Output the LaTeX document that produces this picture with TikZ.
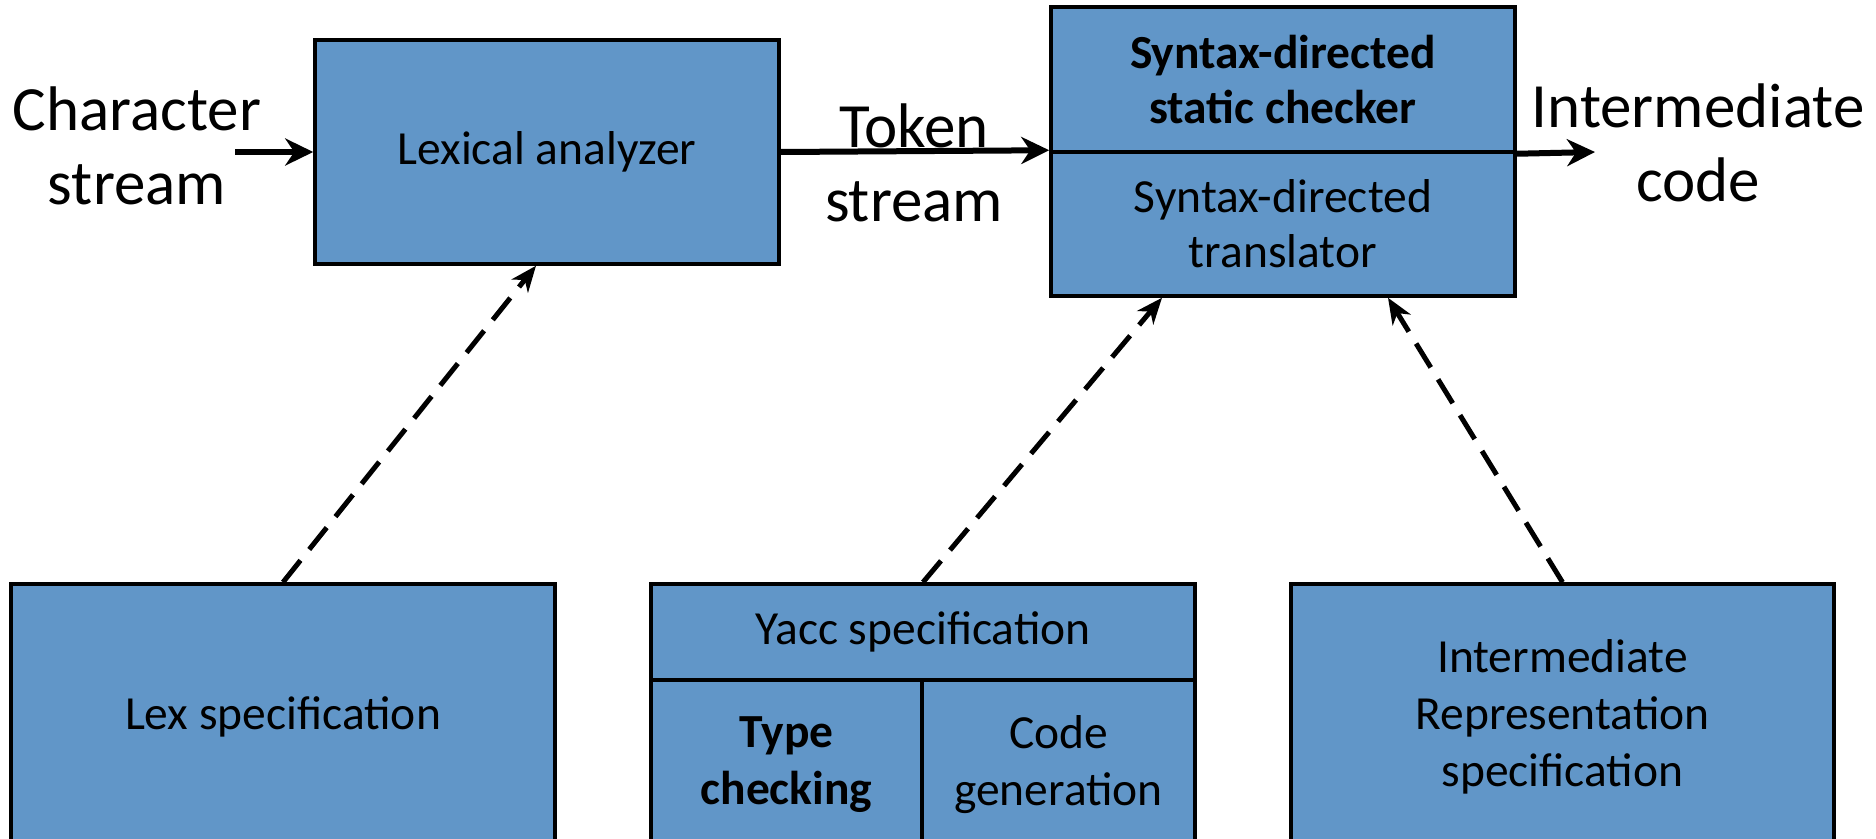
\documentclass[tikz,border=0pt]{standalone}
\usepackage{fontspec}
\setmainfont{Carlito}
\usetikzlibrary{arrows.meta}
\definecolor{boxblue}{HTML}{6196C8}
\tikzset{
  blk/.style={draw=black, line width=3.5pt, fill=boxblue, inner sep=0pt, align=center,
              font=\fontsize{47.5}{57}\selectfont},
  bblk/.style={blk, font=\fontsize{47.5}{57}\selectfont\bfseries},
  lbl/.style={inner sep=0pt, align=center, font=\fontsize{63}{74}\selectfont},
  flow/.style={line width=6pt, -{Stealth[length=28pt,width=27pt,inset=9pt]}},
  feed/.style={line width=5pt, dash pattern=on 28pt off 14pt,
               -{Stealth[length=26pt,width=21pt,inset=8pt]}}
}
\begin{document}
\begin{tikzpicture}[x=1pt,y=-1pt]
\useasboundingbox (0,0) rectangle (1876,838);

% front end: lexer and syntax-directed stage
\node[blk, minimum width=464pt, minimum height=224pt] (lex) at (547,152) {Lexical analyzer};
\node[bblk, minimum width=464pt, minimum height=145pt, font=\fontsize{47.5}{55}\selectfont\bfseries] (chk) at (1283,79.5)
  {Syntax-directed\\static checker};
\node[blk, minimum width=464pt, minimum height=144pt, font=\fontsize{47.5}{55}\selectfont] (trn) at (1283,224)
  {Syntax-directed\\translator};

% specifications
\node[blk, minimum width=544pt, minimum height=266pt] (lexspec) at (283,717) {Lex specification};
\node[blk, minimum width=544pt, minimum height=96pt] (yacc) at (923,632) {Yacc specification};
\node[bblk, minimum width=271pt, minimum height=170pt] (type) at (786.5,765) {Type\\checking};
\node[blk, minimum width=273pt, minimum height=170pt] (gen) at (1058.5,765) {Code\\generation};
\node[blk, minimum width=543pt, minimum height=266pt] (ir) at (1562.5,717) {Intermediate\\Representation\\specification};

% stream labels
\node[lbl] (cs) at (137,146) {Character\\stream};
\node[lbl] (ts) at (914,163) {Token\\stream};
\node[lbl] (ic) at (1698,143) {Intermediate\\code};

\coordinate (csin) at (235,152);
\coordinate (icout) at (1595,152);

% data flow
\draw[flow] (csin) -- (lex.west);
\draw[flow] (lex.east) -- (trn.north west);
\draw[flow] (chk.south east) -- (icout);

% generated from specifications
\draw[feed] (lexspec.north) -- ([xshift=-11pt]lex.south);
\draw[feed] (yacc.north) -- ([xshift=-121pt]trn.south);
\draw[feed] (ir.north) -- ([xshift=105pt]trn.south);
\end{tikzpicture}
\end{document}
